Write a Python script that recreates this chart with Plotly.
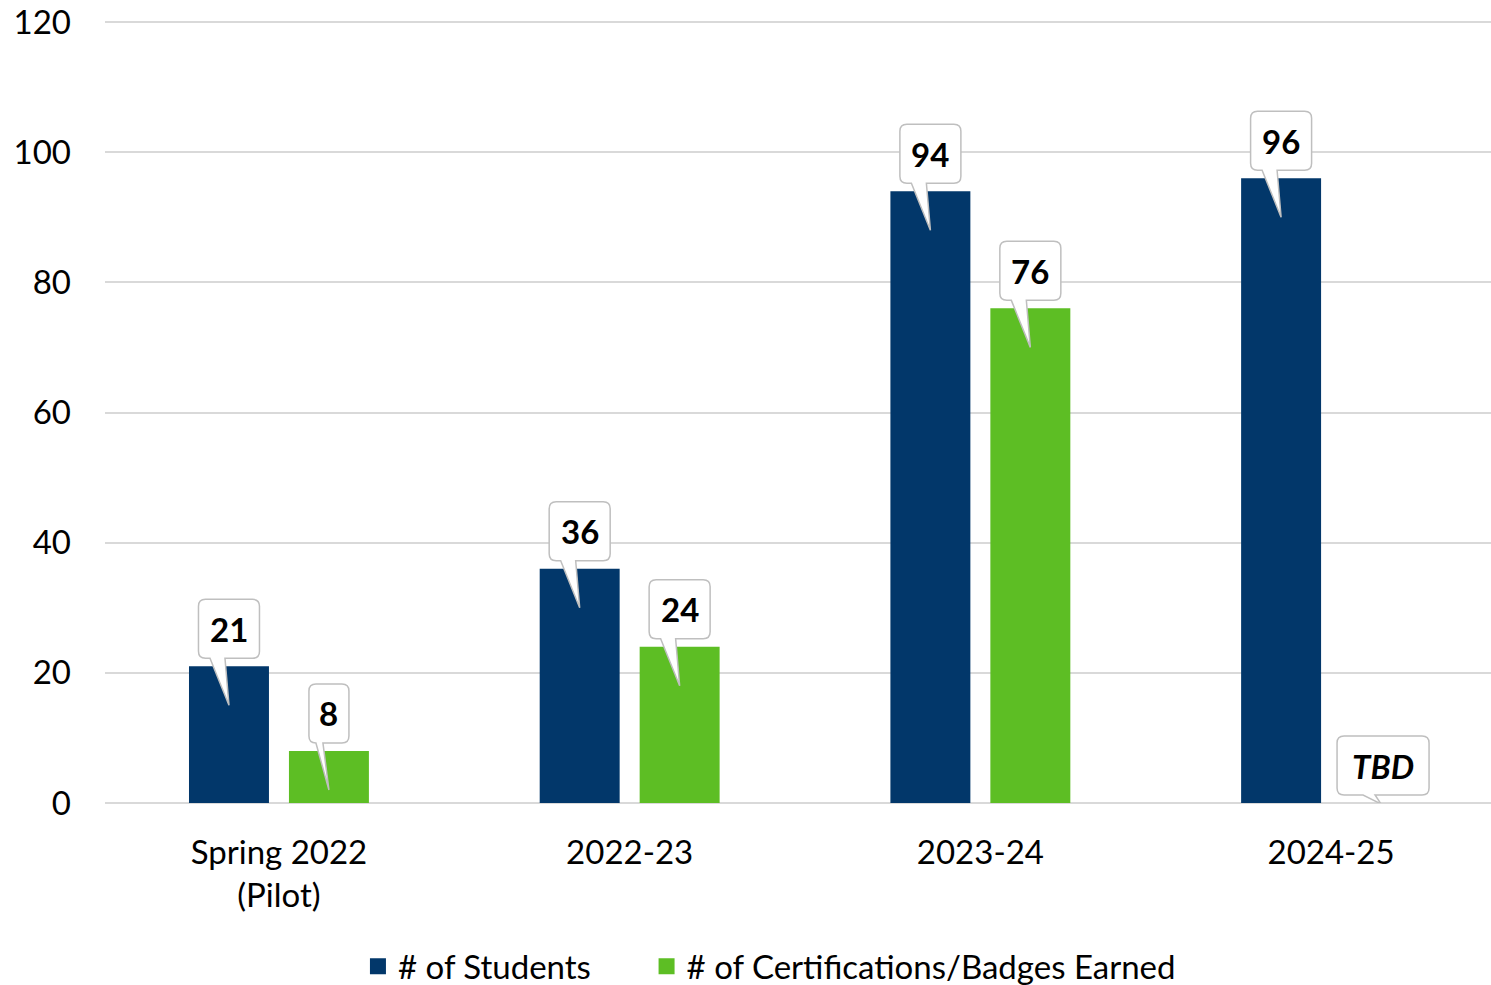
import plotly.graph_objects as go

categories = ["Spring 2022<br>(Pilot)", "2022-23", "2023-24", "2024-25"]
students = [21, 36, 94, 96]
badges = [8, 24, 76, 0]
student_labels = ["21", "36", "94", "96"]
badge_labels = ["8", "24", "76", "TBD"]
series_names = ["# of Students", "# of Certifications/Badges Earned"]
colors = ["#02376A", "#5DBE24"]

FONT = "Lato"
FS = 33
BARGAP = 0.43
BARGROUPGAP = 0.2
YMAX = 120
X_RANGE = [-0.496, 3.456]

fig = go.Figure()
for k, (vals, name, col) in enumerate(zip([students, badges], series_names, colors)):
    fig.add_trace(go.Bar(x=categories, y=vals, name=name, marker=dict(color=col, line=dict(width=0)),
                         showlegend=False, hoverinfo="skip"))
    # legend proxy (first entry padded so the gap matches)
    pad = "\u00a0" * 6 if k == 0 else ""
    fig.add_trace(go.Scatter(x=[None], y=[None], mode="markers", name=name + pad,
                             marker=dict(symbol="square", size=16, color=col), showlegend=True))


def callout_path(w, dx, tip_dy, bx1, bx2, bottom=8, top=67, r=7):
    left = dx - w / 2
    right = dx + w / 2
    return (f"M{left + r},{top} L{right - r},{top} Q{right},{top} {right},{top - r} "
            f"L{right},{bottom + r} Q{right},{bottom} {right - r},{bottom} "
            f"L{bx2},{bottom} L0,{tip_dy} L{bx1},{bottom} "
            f"L{left + r},{bottom} Q{left},{bottom} {left},{bottom + r} "
            f"L{left},{top - r} Q{left},{top} {left + r},{top} Z")


slot = (1 - BARGAP) / 2
for k, (vals, labels) in enumerate(zip([students, badges], [student_labels, badge_labels])):
    offset = (k - 0.5) * slot
    for i, (v, lab) in enumerate(zip(vals, labels)):
        xa = i + offset
        if lab.isdigit():
            w = 40 if len(lab) == 1 else 61
            dx = 0
            tip = -39
            bx1, bx2 = (-13, -6) if len(lab) == 1 else (-19, -4)
            txt = f"<b>{lab}</b>"
        else:
            w = 92
            dx = 2
            tip = -1
            bx1, bx2 = -18, -6
            txt = f"<b><i>{lab}</i></b>"
        fig.add_shape(type="path", xref="x", yref="y", xsizemode="pixel", ysizemode="pixel",
                      xanchor=xa, yanchor=v, path=callout_path(w, dx, tip, bx1, bx2),
                      fillcolor="white", line=dict(color="#BFBFBF", width=1.5), layer="above")
        fig.add_annotation(x=xa, y=v, xref="x", yref="y", text=txt, showarrow=False,
                           yshift=37.5, xshift=dx, yanchor="middle", xanchor="center",
                           font=dict(family=FONT, size=FS, color="black"))

top_pad = 2
bottom_margin = 182
fig.update_layout(
    width=1491, height=985,
    margin=dict(l=105, r=0, t=22 - top_pad, b=bottom_margin, autoexpand=False),
    paper_bgcolor="white", plot_bgcolor="white",
    barmode="group", bargap=BARGAP, bargroupgap=BARGROUPGAP,
    font=dict(family=FONT, size=FS, color="black"),
    legend=dict(orientation="h", x=0.4794, xanchor="center", y=-0.2087, yanchor="middle",
                font=dict(family=FONT, size=FS, color="black"), itemclick=False),
)
plot_h = 985 - (22 - top_pad) - bottom_margin
fig.update_yaxes(range=[0, YMAX * plot_h / (plot_h - top_pad)], tickvals=[0, 20, 40, 60, 80, 100, 120],
                 showgrid=True, gridcolor="#D9D9D9", gridwidth=2,
                 zeroline=True, zerolinecolor="#D9D9D9", zerolinewidth=2,
                 tickfont=dict(family=FONT, size=FS, color="black"), ticklabelstandoff=33,
                 showline=False, automargin=False)
fig.update_xaxes(type="category", range=X_RANGE, tickfont=dict(family=FONT, size=FS, color="black"),
                 ticklabelstandoff=27, showline=False, showgrid=False, automargin=False)

fig.write_html("out.html", post_script="document.body.style.margin='0px';",
               config={"displayModeBar": False})
